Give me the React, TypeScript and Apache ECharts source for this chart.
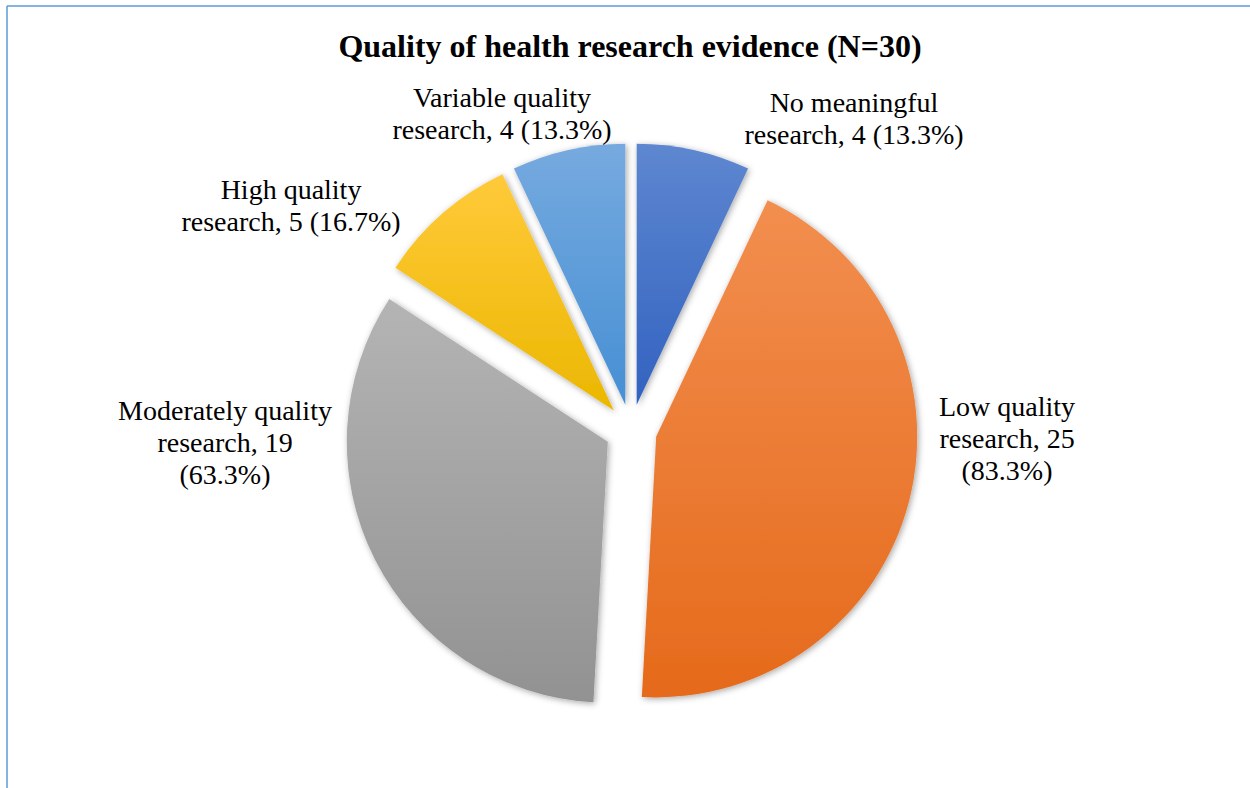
import React, { useEffect, useRef } from "react";
import * as echarts from "echarts";

const TITLE = "Quality of health research evidence (N=30)";
const TOTAL_N = 30;
const CATEGORIES = [
  "No meaningful research",
  "Low quality research",
  "Moderately quality research",
  "High quality research",
  "Variable quality research",
];
const VALUES = [4, 25, 19, 5, 4];
const PCT_ON_NEW_LINE = [false, true, true, false, false];

const COLORS_TOP = ["#5E87D0", "#F28E4F", "#B4B4B4", "#FFCA3A", "#76AADF"];
const COLORS_BOTTOM = ["#3262C0", "#E56A1B", "#929292", "#EBB700", "#468FD4"];
const LABEL_CENTERS = [
  [854, 118],
  [1007, 438],
  [225, 442],
  [291, 205],
  [502, 113],
];

const FONT = '"Liberation Serif", "Times New Roman", serif';
const PIE_CENTER = [631, 430];
const PIE_RADIUS = 261;

export default function App() {
  const ref = useRef<HTMLDivElement>(null);
  useEffect(() => {
    if (!ref.current) return;
    const chart = echarts.init(ref.current, null, { renderer: "svg" });
    const sliceData = CATEGORIES.map((name, i) => ({
      name,
      value: VALUES[i],
      selected: true,
      itemStyle: {
        color: new echarts.graphic.LinearGradient(0, 0, 0, 1, [
          { offset: 0, color: COLORS_TOP[i] },
          { offset: 1, color: COLORS_BOTTOM[i] },
        ]),
      },
    }));
    const labelData = CATEGORIES.map((name, i) => ({ name, value: VALUES[i] }));
    chart.setOption({
      animation: false,
      backgroundColor: "#ffffff",
      graphic: [
        {
          type: "line",
          shape: { x1: 7, y1: 6, x2: 1250, y2: 6 },
          style: { stroke: "#5B9BD5", lineWidth: 1.5 },
        },
        {
          type: "line",
          shape: { x1: 7, y1: 6, x2: 7, y2: 788 },
          style: { stroke: "#5B9BD5", lineWidth: 1.5 },
        },
        {
          type: "text",
          x: 630,
          y: 46,
          style: {
            text: TITLE,
            fontFamily: FONT,
            fontSize: 32,
            fontWeight: "bold",
            fill: "#000",
            align: "center",
            verticalAlign: "middle",
          },
        },
      ],
      series: [
        {
          type: "pie",
          center: PIE_CENTER,
          radius: PIE_RADIUS,
          startAngle: 90,
          clockwise: true,
          selectedMode: "multiple",
          selectedOffset: 26,
          silent: true,
          emphasis: { disabled: true },
          itemStyle: {
            shadowBlur: 6,
            shadowColor: "rgba(0,0,0,0.35)",
            shadowOffsetX: 1.5,
            shadowOffsetY: 1.5,
          },
          label: { show: false },
          labelLine: { show: false },
          data: sliceData,
        },
        {
          type: "pie",
          center: PIE_CENTER,
          radius: PIE_RADIUS,
          startAngle: 90,
          clockwise: true,
          silent: true,
          avoidLabelOverlap: false,
          emphasis: { disabled: true },
          itemStyle: { color: "rgba(0,0,0,0)" },
          label: {
            show: true,
            position: "outside",
            fontFamily: FONT,
            fontSize: 28,
            lineHeight: 32,
            color: "#000",
            align: "center",
            formatter: (p: any) => {
              const i = p.dataIndex;
              const words = String(p.name).split(" ");
              const tail = words.pop();
              const head = words.join(" ");
              const pct = ((VALUES[i] / TOTAL_N) * 100).toFixed(1);
              const sep = PCT_ON_NEW_LINE[i] ? "\n" : " ";
              return `${head}\n${tail}, ${VALUES[i]}${sep}(${pct}%)`;
            },
          },
          labelLine: { show: false },
          labelLayout: (params: any) => {
            const c = LABEL_CENTERS[params.dataIndex];
            return { x: c[0], y: c[1], align: "center", verticalAlign: "middle" };
          },
          data: labelData,
        },
      ],
    });
    return () => chart.dispose();
  }, []);
  return (
    <div
      ref={ref}
      style={{ position: "absolute", left: 0, top: 0, width: 1250, height: 788 }}
    />
  );
}
